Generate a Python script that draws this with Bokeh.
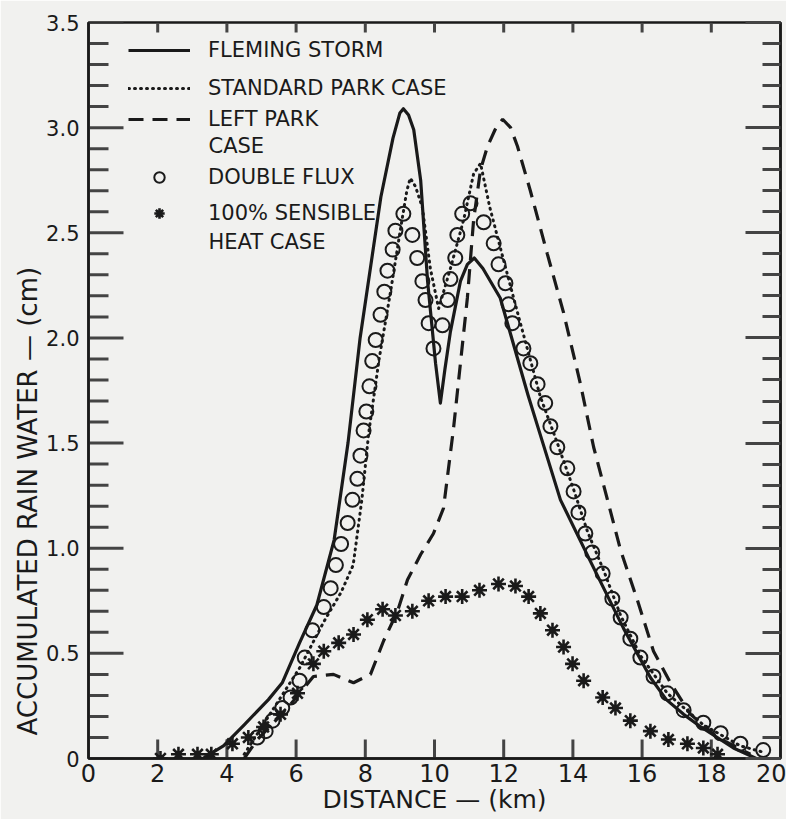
import math
from bokeh.plotting import figure
from bokeh.models import (FixedTicker, LinearAxis, Legend, LegendItem, Label, Range1d, Title)
from bokeh.embed import file_html
from bokeh.resources import INLINE

# ---------------- data ----------------
x_ticks = [0, 2, 4, 6, 8, 10, 12, 14, 16, 18, 20]
y_ticks = [0, 0.5, 1.0, 1.5, 2.0, 2.5, 3.0, 3.5]
y_tick_labels = ["0", "0.5", "1.0", "1.5", "2.0", "2.5", "3.0", "3.5"]
y_minor = [round(i * 0.1, 1) for i in range(0, 36) if i % 5 != 0]

fleming_x = [3.3, 3.9, 4.5, 5.2, 5.6, 6.1, 6.6, 7.1, 7.5, 7.85, 8.45, 8.8, 9.0, 9.1, 9.25, 9.4,
             9.6, 9.8, 10.03, 10.17, 10.3, 10.46, 10.75, 10.95, 11.15, 11.4, 11.9, 12.7, 13.0,
             13.64, 14.5, 15.46, 16.24, 16.7, 17.2, 17.7, 18.64, 19.3]
fleming_y = [0.0, 0.06, 0.16, 0.28, 0.36, 0.55, 0.73, 1.04, 1.5, 2.0, 2.67, 2.95, 3.07, 3.09, 3.06,
             2.99, 2.75, 2.27, 1.88, 1.69, 1.85, 2.03, 2.27, 2.35, 2.38, 2.33, 2.19, 1.73, 1.57,
             1.23, 0.94, 0.62, 0.385, 0.28, 0.21, 0.15, 0.05, 0.0]

park_x = [4.5, 5.2, 6.1, 6.8, 7.3, 7.65, 7.9, 8.1, 8.4, 8.73, 9.0, 9.2, 9.3, 9.45, 9.65, 9.88,
          10.12, 10.46, 10.84, 11.13, 11.33, 11.6, 11.9, 12.4, 13.06, 13.55, 14.02, 14.42,
          14.9, 15.38, 15.95, 16.73, 17.77, 18.84, 19.5]
park_y = [0.02, 0.2, 0.43, 0.65, 0.79, 0.92, 1.23, 1.55, 1.9, 2.22, 2.5, 2.7, 2.76, 2.72, 2.62,
          2.33, 2.14, 2.33, 2.56, 2.78, 2.83, 2.62, 2.43, 2.12, 1.72, 1.5, 1.28, 1.08,
          0.89, 0.68, 0.49, 0.31, 0.16, 0.06, 0.03]

left_x = [4.5, 4.88, 5.75, 6.5, 7.08, 7.66, 8.15, 8.53, 8.93, 9.22, 9.6, 9.97, 10.26, 10.55,
          10.75, 10.95, 11.13, 11.33, 11.53, 11.75, 11.97, 12.2, 12.4, 12.77, 13.26, 13.73,
          14.22, 14.6, 15.0, 15.38, 15.87, 16.33, 16.82, 17.4, 18.18, 19.13]
left_y = [0.0, 0.09, 0.24, 0.39, 0.40, 0.36, 0.40, 0.56, 0.70, 0.85, 0.97, 1.07, 1.19, 1.57,
          1.88, 2.19, 2.56, 2.80, 2.91, 2.99, 3.04, 3.0, 2.91, 2.70, 2.40, 2.12,
          1.78, 1.48, 1.23, 0.99, 0.75, 0.51, 0.36, 0.21, 0.10, 0.02]

flux_x = [4.88, 5.12, 5.32, 5.6, 5.84, 6.1, 6.25, 6.47, 6.8, 7.0, 7.15, 7.3, 7.49, 7.63, 7.77,
          7.86, 7.95, 8.03, 8.12, 8.2, 8.3, 8.44, 8.55, 8.64, 8.79, 8.87, 9.1,
          9.36, 9.5, 9.65, 9.74, 9.83, 9.97,
          10.23, 10.38, 10.46, 10.6, 10.66, 10.8, 11.04,
          11.42, 11.71, 11.85, 12.05, 12.14, 12.25, 12.57, 12.77, 12.98, 13.2, 13.35, 13.55,
          13.84, 14.02, 14.16, 14.36, 14.56, 14.86, 15.14, 15.38, 15.66, 15.95, 16.33, 16.73,
          17.2, 17.77, 18.27, 18.84, 19.5]
flux_y = [0.10, 0.13, 0.18, 0.24, 0.29, 0.37, 0.48, 0.61, 0.72, 0.81, 0.92, 1.02, 1.12, 1.23, 1.33,
          1.44, 1.56, 1.65, 1.77, 1.89, 1.99, 2.11, 2.22, 2.32, 2.42, 2.51, 2.59,
          2.49, 2.38, 2.27, 2.18, 2.07, 1.95,
          2.06, 2.18, 2.28, 2.38, 2.49, 2.59, 2.64,
          2.55, 2.45, 2.35, 2.26, 2.16, 2.07, 1.95, 1.88, 1.78, 1.69, 1.58, 1.48,
          1.38, 1.27, 1.17, 1.07, 0.98, 0.88, 0.76, 0.67, 0.57, 0.48, 0.39, 0.31,
          0.23, 0.17, 0.12, 0.07, 0.04]

heat_x = [2.08, 2.6, 3.15, 3.55, 4.16, 4.62, 5.06, 5.55, 6.04, 6.5, 6.8, 7.23, 7.66, 8.06, 8.5,
          8.87, 9.36, 9.83, 10.32, 10.8, 11.3, 11.85, 12.34, 12.72, 13.06, 13.41, 13.73,
          13.99, 14.31, 14.86, 15.23, 15.66, 16.24, 16.76, 17.31, 17.77, 18.18]
heat_y = [0.0, 0.02, 0.02, 0.02, 0.07, 0.10, 0.15, 0.21, 0.31, 0.45, 0.51, 0.55, 0.59, 0.66, 0.71,
          0.68, 0.70, 0.75, 0.77, 0.77, 0.80, 0.83, 0.82, 0.77, 0.69, 0.61, 0.53,
          0.45, 0.37, 0.29, 0.24, 0.18, 0.13, 0.09, 0.07, 0.05, 0.02]

series_names = ["FLEMING STORM", "STANDARD PARK CASE", "LEFT PARK", "DOUBLE FLUX", "100% SENSIBLE"]
second_lines = ["", "", "CASE", "", "HEAT CASE"]

# ---------------- style ----------------
BG = "#f1f1ef"
INK = "#1a1a1a"
TICK = "#444444"
FONT = "DejaVu Sans"

FRAME_LEFT, FRAME_TOP, FRAME_RIGHT, FRAME_BOTTOM = 88, 22, 780, 758
W, H = 786, 819
X0, X1, Y0, Y1 = 0.0, 20.0, 0.0, 3.5
X_PX = (FRAME_RIGHT - FRAME_LEFT) / (X1 - X0)
Y_PX = (FRAME_BOTTOM - FRAME_TOP) / (Y1 - Y0)

p = figure(width=W, height=H, x_range=Range1d(X0, X1), y_range=Range1d(Y0, Y1),
           x_axis_type=None, y_axis_type=None,
           output_backend="svg", toolbar_location=None,
           min_border_left=FRAME_LEFT, min_border_right=W - FRAME_RIGHT,
           min_border_top=FRAME_TOP, min_border_bottom=H - FRAME_BOTTOM,
           background_fill_color=BG, border_fill_color=BG)
p.xgrid.visible = False
p.ygrid.visible = False
p.outline_line_color = INK
p.outline_line_width = 2.5


def style_axis(ax, size):
    ax.axis_line_color = INK
    ax.axis_line_width = 2.5
    ax.major_tick_in = 0
    ax.major_tick_out = 0
    ax.minor_tick_in = 0
    ax.minor_tick_out = 0
    ax.major_label_text_font = FONT
    ax.major_label_text_font_size = size
    ax.major_label_text_color = INK


xb = LinearAxis(ticker=FixedTicker(ticks=x_ticks, minor_ticks=[]))
style_axis(xb, "24px")
xb.major_label_standoff = 5
xb.axis_label = "DISTANCE \u2014 (km)"
xb.axis_label_text_font = FONT
xb.axis_label_text_font_size = "25px"
xb.axis_label_text_font_style = "normal"
xb.axis_label_text_color = INK
xb.axis_label_standoff = 0
p.add_layout(xb, "below")

yl = LinearAxis(ticker=FixedTicker(ticks=y_ticks, minor_ticks=[]))
style_axis(yl, "21px")
yl.major_label_overrides = {t: s for t, s in zip(y_ticks, y_tick_labels)}
yl.major_label_standoff = 9
p.add_layout(yl, "left")

p.add_layout(Title(text="ACCUMULATED RAIN WATER \u2014 (cm)", align="left", offset=23,
                   text_font=FONT, text_font_size="26px", text_font_style="normal",
                   text_color=INK, standoff=2), "left")

# right axis: Bokeh's own inward ticks
yr = LinearAxis(ticker=FixedTicker(ticks=y_ticks, minor_ticks=y_minor))
yr.axis_line_color = INK
yr.axis_line_width = 2.5
yr.major_tick_in = 35
yr.major_tick_out = 0
yr.minor_tick_in = 18
yr.minor_tick_out = 0
yr.major_tick_line_color = TICK
yr.minor_tick_line_color = TICK
yr.major_tick_line_width = 3
yr.minor_tick_line_width = 3
yr.major_label_text_color = None
p.add_layout(yr, "right")

# inward tick marks on the other three sides, drawn from the tick values
TK = dict(line_color=TICK, line_width=3)
dy_b, dy_t = 19 / Y_PX, 10 / Y_PX
dx_maj, dx_min_l = 35 / X_PX, 20 / X_PX
p.segment(x0=x_ticks, y0=[Y0] * len(x_ticks), x1=x_ticks, y1=[Y0 + dy_b] * len(x_ticks), **TK)
p.segment(x0=x_ticks, y0=[Y1] * len(x_ticks), x1=x_ticks, y1=[Y1 - dy_t] * len(x_ticks), **TK)
p.multi_line(xs=[[X0, X0 + dx_maj] for _ in y_ticks], ys=[[t, t] for t in y_ticks], **TK)
p.multi_line(xs=[[X0, X0 + dx_min_l] for _ in y_minor], ys=[[t, t] for t in y_minor], **TK)

# ---------------- series ----------------
r_flem = p.line(fleming_x, fleming_y, line_color=INK, line_width=3.2, line_join="round")
r_park = p.line(park_x, park_y, line_color=INK, line_width=3, line_dash="1 5",
                line_cap="round", line_join="round")
r_left = p.line(left_x, left_y, line_color=INK, line_width=3.2, line_dash="15 9")
r_flux = p.scatter(flux_x, flux_y, marker="circle", size=14, fill_color=None,
                   line_color=INK, line_width=2)
r_heat = p.scatter(heat_x, heat_y, marker="asterisk", size=15, line_color=INK, line_width=2.6)

renderers = [r_flem, r_park, r_left, r_flux, r_heat]
row_centers = [50, 88, 119, 177, 213]
second_centers = [None, None, 145, None, 241]
LEG_H = 26
for name, rend, c in zip(series_names, renderers, row_centers):
    lg = Legend(items=[LegendItem(label=name, renderers=[rend])],
                location=(128 - FRAME_LEFT, FRAME_BOTTOM - c - LEG_H / 2),
                glyph_width=62, glyph_height=LEG_H, label_height=LEG_H, label_standoff=18,
                padding=0, margin=0, spacing=0,
                border_line_color=None, background_fill_alpha=0,
                label_text_font=FONT, label_text_font_size="21px", label_text_color=INK)
    p.add_layout(lg)

for txt, c in zip(second_lines, second_centers):
    if txt:
        p.add_layout(Label(x=X0 + (208 - FRAME_LEFT) / X_PX, y=(FRAME_BOTTOM - c) / Y_PX, text=txt,
                           text_align="left", text_baseline="middle",
                           text_font=FONT, text_font_size="21px", text_color=INK))

open("out.html", "w").write(file_html(p, INLINE))
